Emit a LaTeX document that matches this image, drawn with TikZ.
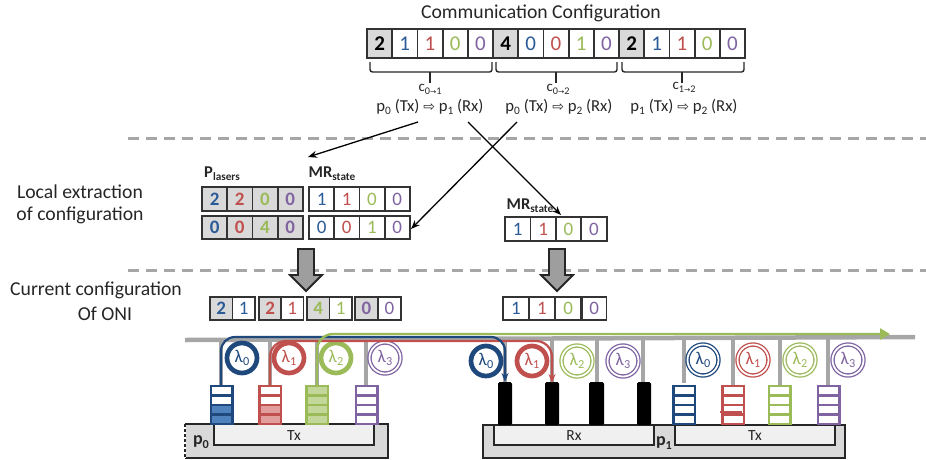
\documentclass[tikz,border=0pt]{standalone}
\usepackage{fontspec}
\setmainfont{Carlito}
\newfontfamily\djv{DejaVu Sans}
\usetikzlibrary{arrows.meta}
\definecolor{cB}{HTML}{2B5B97}
\definecolor{cR}{HTML}{C0504D}
\definecolor{cG}{HTML}{9BBB59}
\definecolor{cP}{HTML}{8064A2}
\definecolor{cBd}{HTML}{1F497D}
\definecolor{cK}{HTML}{000000}
\definecolor{gF}{HTML}{D9D9D9}
\definecolor{wF}{HTML}{FFFFFF}
\definecolor{lB}{HTML}{4F81BD}
\definecolor{lR}{HTML}{E29E9C}
\definecolor{lG}{HTML}{C4D79B}
\newcommand{\subs}[1]{\raisebox{-0.2em}{\scalebox{0.68}{#1}}}
\newcommand{\fsz}[1]{\fontsize{#1}{#1}\selectfont}
% \cellrow{prefix}{x0}{ymid}{cell w}{cell h}{font}{fill/colour/text list}
\newcommand{\cellrow}[7]{%
  \foreach \fc/\tc/\tx [count=\i from 0] in {#7}{%
    \node[cellbox,minimum width=#4,minimum height=#5,fill=\fc,text=\tc,font=\fsz{#6}] (#1\i) at ({#2+(\i+0.5)*#4},#3) {\tx};
  }}
\newcommand{\queue}[5]{% name, x0, colour, fill count, fill colour
  \foreach \k in {0,1,2,3}{%
    \pgfmathtruncatemacro{\isf}{\k<#4 ? 1 : 0}
    \ifnum\isf=1 \fill[#5] (#2,{424-9.5*\k}) rectangle (#2+21.5,{424-9.5*(\k+1)});\fi
    \draw[#3,line width=2.3] (#2,{424-9.5*\k}) rectangle (#2+21.5,{424-9.5*(\k+1)});
  }}
\tikzset{
  cellbox/.style={draw=black!80,line width=1.8,inner sep=0pt,outer sep=0pt,anchor=center},
  dashline/.style={draw=black!35,line width=3,dash pattern=on 11pt off 7pt},
  stub/.style={draw=black!35,line width=3.8},
  wave/.style={draw=black!35,line width=4.5},
  ringA/.style={circle,draw=#1,line width=4.7,minimum size=30,inner sep=0pt,text=#1,font=\fsz{18}},
  ringB/.style={circle,draw=#1,double=white,line width=1.3,double distance=1.8,minimum size=31,inner sep=0pt,text=#1,font=\fsz{18}},
  lab/.style={inner sep=0pt,text=black!85},
  brc/.style={draw=black!85,line width=1.4,rounded corners=2.5},
  pointer/.style={draw=black,line width=1.3,-{Stealth[length=9pt,width=7pt]}},
  block/.style={draw=black!85,line width=1.8,fill=black!38},
  basep/.style={draw=black!85,line width=1.5,fill=gF},
  inner/.style={draw=black!85,line width=1.5,fill=black!6},
}
\begin{document}
\begin{tikzpicture}[x=1pt,y=-1pt]
\useasboundingbox (0,0) rectangle (926,459);

% title and configuration
\node[lab,font=\fsz{19.7}] (title) at (541,13) {Communication Configuration};
\cellrow{t}{367}{43.5}{25.2}{28.5}{21}{gF/black/\textbf{2},wF/cB/1,wF/cR/1,wF/cG/0,wF/cP/0,gF/black/\textbf{4},wF/cB/0,wF/cR/0,wF/cG/1,wF/cP/0,gF/black/\textbf{2},wF/cB/1,wF/cR/1,wF/cG/0,wF/cP/0}

% braces
\foreach \a/\m/\b in {370/430/492,496/556/617,622/682/744}{
  \draw[brc] (\a,62) -- (\a,72) -- (\b,72) -- (\b,62);
  \draw[brc] (\m,72) -- (\m,83);
}
\node[lab,font=\fsz{15}] (c01) at (430,89) {c\subs{0{\djv\fsz{11}→}1}};
\node[lab,font=\fsz{15}] (c02) at (558,89) {c\subs{0{\djv\fsz{11}→}2}};
\node[lab,font=\fsz{15}] (c12) at (684,87.5) {c\subs{1{\djv\fsz{11}→}2}};
\node[lab,font=\fsz{16.7}] (l01) at (430,107) {p\subs{0} (Tx) {\djv\fsz{14}⇨} p\subs{1} (Rx)};
\node[lab,font=\fsz{16.7}] (l02) at (559,107) {p\subs{0} (Tx) {\djv\fsz{14}⇨} p\subs{2} (Rx)};
\node[lab,font=\fsz{16.7}] (l12) at (684,107) {p\subs{1} (Tx) {\djv\fsz{14}⇨} p\subs{2} (Rx)};

% dashed separators
\coordinate (d1a) at (128,138); \coordinate (d1b) at (926,138);
\coordinate (d2a) at (128,270); \coordinate (d2b) at (926,270);
\draw[dashline] (d1a) -- (d1b);
\draw[dashline] (d2a) -- (d2b);

% side labels
\node[lab,font=\fsz{19.7}] (s1) at (80,192) {Local extraction};
\node[lab,font=\fsz{19.7}] (s2) at (80,215) {of configuration};
\node[lab,font=\fsz{19.7}] (s3) at (96,290) {Current configuration};
\node[lab,font=\fsz{19.7}] (s4) at (105,314) {Of ONI};

% extraction
\node[lab,font=\fsz{16.5}\bfseries] (pl) at (222,174) {P\subs{lasers}};
\node[lab,font=\fsz{16.5}\bfseries] (mr1) at (332,174) {MR\subs{state}};
\cellrow{a}{202}{199}{25.2}{24}{19}{gF/cB/\textbf{2},gF/cR/\textbf{2},gF/cG/\textbf{0},gF/cP/\textbf{0}}
\cellrow{b}{202}{227.5}{25.2}{23.5}{19}{gF/cB/\textbf{0},gF/cR/\textbf{0},gF/cG/\textbf{4},gF/cP/\textbf{0}}
\cellrow{c}{309}{199}{25.2}{24}{19}{wF/cB/1,wF/cR/1,wF/cG/0,wF/cP/0}
\cellrow{d}{309}{227.5}{25.2}{23.5}{19}{wF/cB/0,wF/cR/0,wF/cG/1,wF/cP/0}
\node[lab,font=\fsz{16.5}\bfseries] (mr2) at (530,206) {MR\subs{state}};
\cellrow{e}{505}{229}{25.4}{24}{19}{wF/cB/1,wF/cR/1,wF/cG/0,wF/cP/0}

% arrows
\coordinate (a1s) at (418,122); \coordinate (a1e) at (308,157);
\coordinate (a2s) at (517,122); \coordinate (a2e) at (411,229);
\coordinate (a3s) at (468,122); \coordinate (a3e) at (561,215);
\draw[pointer] (a1s) -- (a1e);
\draw[pointer] (a2s) -- (a2e);
\draw[pointer] (a3s) -- (a3e);

% block arrows
\draw[block] (298,249) -- (314,249) -- (314,275) -- (322,275) -- (306,291) -- (290,275) -- (298,275) -- cycle;
\draw[block] (549,249) -- (565,249) -- (565,275) -- (573,275) -- (557,291) -- (541,275) -- (549,275) -- cycle;

% current configuration
\cellrow{f}{210}{308.5}{22.5}{23}{19}{gF/cB/\textbf{2},wF/cB/1}
\cellrow{g}{259}{308.5}{22.2}{23}{19}{gF/cR/\textbf{2},wF/cR/1}
\cellrow{h}{307}{308.5}{22.5}{23}{19}{gF/cG/\textbf{4},wF/cG/1}
\cellrow{i}{355}{308.5}{23}{23}{19}{gF/cP/\textbf{0},wF/cP/0}
\cellrow{j}{503}{308.5}{25.8}{23}{19}{wF/cB/1}
\cellrow{k}{529}{308.5}{25.8}{23}{19}{wF/cR/1}
\cellrow{l}{555.5}{308.5}{25.5}{23}{19}{wF/cG/0}
\cellrow{m}{582}{308.5}{24.5}{23}{19}{wF/cP/0}

% waveguide and stubs
\draw[wave] (185,340) -- (915,337);
\foreach \x in {221,270,317,366,505,552,597,643,733,780,828}
  \draw[stub] (\x,339) -- (\x,385);
\draw[stub] (684,338) -- (684,383);

% base
\draw[basep] (185,424) -- (388,424) -- (388,458) -- (185,458);
\draw[white,line width=1.6] (185,424) -- (185,458);
\draw[black!85,line width=1.5,dash pattern=on 3pt off 2pt] (185,424) -- (185,458);
\draw[inner] (214,424) rectangle (374,445);
\node[lab,font=\fsz{15.5}] (tx0) at (294,436) {Tx};
\node[lab,font=\fsz{18}\bfseries] (p0) at (201,442) {p\subs{0}};
\draw[basep] (483,425) rectangle (845,458);
\draw[inner] (494,425) rectangle (654,445);
\draw[inner] (675,425) rectangle (835,445);
\node[lab,font=\fsz{15.5}] (rx) at (574,436) {Rx};
\node[lab,font=\fsz{15.5}] (tx1) at (755,436) {Tx};
\node[lab,font=\fsz{18}\bfseries] (p1) at (664,443) {p\subs{1}};

% queues
\queue{q0}{211}{cBd}{2}{lB}
\queue{q1}{259.5}{cR}{2}{lR}
\queue{q2}{306.5}{cG}{4}{lG}
\queue{q3}{356}{cP}{0}{white}
\queue{q4}{673.5}{cBd}{0}{white}
\queue{q5}{722.5}{cR}{0}{white}
\queue{q6}{769}{cG}{0}{white}
\queue{q7}{818}{cP}{0}{white}
\draw[cR,line width=2.2] (720,412) -- (742,412);

% Rx blocks
\foreach \x/\w in {498/14,545/14,589/15,637/14}
  \fill[black,rounded corners=1.5] (\x,425) -- (\x,382) -- (\x+\w,382) -- (\x+\w,425) -- cycle;

% rings
\node[ringA=cBd] (r0) at (242,358) {λ\subs{0}};
\node[ringA=cR] (r1) at (289,358) {λ\subs{1}};
\node[ringA=cG] (r2) at (336,358) {λ\subs{2}};
\node[ringB=cP] (r3) at (385,358) {λ\subs{3}};
\node[ringA=cBd] (r4) at (486,361) {λ\subs{0}};
\node[ringA=cR] (r5) at (532,361) {λ\subs{1}};
\node[ringB=cG] (r6) at (577,361) {λ\subs{2}};
\node[ringB=cP] (r7) at (623,361) {λ\subs{3}};
\node[ringB=cBd] (r8) at (703,360) {λ\subs{0}};
\node[ringB=cR] (r9) at (753,360) {λ\subs{1}};
\node[ringB=cG] (r10) at (800,360) {λ\subs{2}};
\node[ringB=cP] (r11) at (848,360) {λ\subs{3}};

% signal paths
\draw[cR,line width=2.2,rounded corners=16,-{Stealth[length=9pt,width=7pt]}] (270,385) -- (270,341) -- (552,341) -- (552,383);
\draw[cBd,line width=2.2,rounded corners=14,-{Stealth[length=9pt,width=7pt]}] (221,385) -- (221,337) -- (505,337) -- (505,382);
\draw[cG,line width=2.4,rounded corners=16,-{Triangle[length=10pt,width=11pt]}] (317,385) -- (317,334) -- (890,334);
\end{tikzpicture}
\end{document}
